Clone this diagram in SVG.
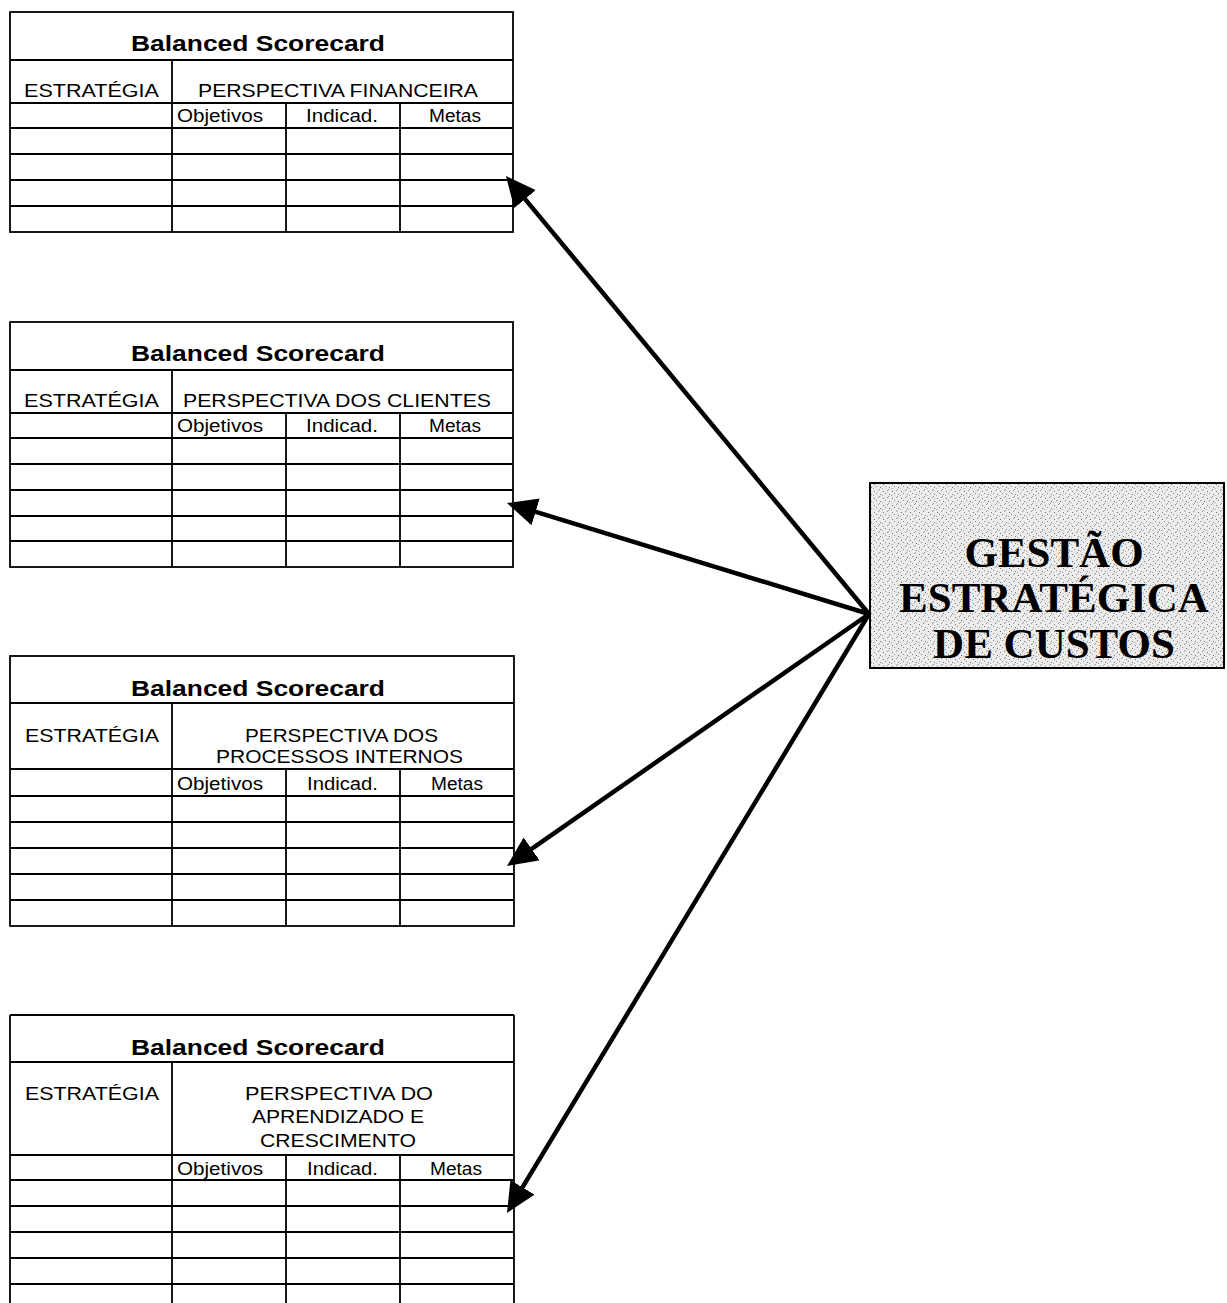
<svg xmlns="http://www.w3.org/2000/svg" width="1227" height="1303" viewBox="0 0 1227 1303">
  <style>
    .grid { fill: none; stroke: #000; stroke-width: 1.8; }
    .title { font-family: "Liberation Sans", Arial, sans-serif; font-weight: bold; font-size: 22.5px; fill: #000; }
    .hdr { font-family: "Liberation Sans", Arial, sans-serif; font-size: 18.5px; fill: #000; }
    .col { font-family: "Liberation Sans", Arial, sans-serif; font-size: 17.5px; fill: #000; }
    .big { font-family: "Liberation Serif", "Times New Roman", serif; font-weight: bold; font-size: 43px; fill: #000; text-anchor: middle; }
    .conn { stroke: #000; stroke-width: 4.5; fill: none; marker-end: url(#head); }
  </style>
  <defs>
    <marker id="head" viewBox="0 0 30 28" markerWidth="30" markerHeight="28" refX="10" refY="14" orient="auto" markerUnits="userSpaceOnUse">
      <path d="M0,0 L30,14 L0,28 Z" fill="#000"/>
    </marker>
    <pattern id="halftone" width="9" height="7" patternUnits="userSpaceOnUse">
      <rect width="9" height="7" fill="#ececec"/>
      <rect x="1" y="1" width="1" height="1" fill="#777"/>
      <rect x="5" y="0" width="1" height="1" fill="#999"/>
      <rect x="3" y="3" width="1" height="1" fill="#888"/>
      <rect x="7" y="4" width="1" height="1" fill="#777"/>
      <rect x="0" y="5" width="1" height="1" fill="#aaa"/>
      <rect x="6" y="6" width="1" height="1" fill="#999"/>
    </pattern>
  </defs>

  <rect width="1227" height="1303" fill="#fff"/>

  <!-- Scorecard 1: financial perspective -->
  <g id="bsc-financeira">
    <rect class="grid" x="10" y="12" width="503" height="220"/>
    <path class="grid" d="M10,60 H513 M10,103 H513 M10,128 H513 M10,154 H513 M10,180 H513 M10,206 H513 M172,60 V232 M286,103 V232 M400,103 V232"/>
    <text class="title" x="131" y="51" textLength="254" lengthAdjust="spacingAndGlyphs">Balanced Scorecard</text>
    <text class="hdr" x="24" y="97" textLength="135" lengthAdjust="spacingAndGlyphs">ESTRATÉGIA</text>
    <text class="hdr" x="198" y="97" textLength="280" lengthAdjust="spacingAndGlyphs">PERSPECTIVA FINANCEIRA</text>
    <text class="col" x="177" y="122" textLength="86" lengthAdjust="spacingAndGlyphs">Objetivos</text>
    <text class="col" x="306" y="122" textLength="72" lengthAdjust="spacingAndGlyphs">Indicad.</text>
    <text class="col" x="429" y="122" textLength="52" lengthAdjust="spacingAndGlyphs">Metas</text>
  </g>

  <!-- Scorecard 2: customer perspective -->
  <g id="bsc-clientes">
    <rect class="grid" x="10" y="322" width="503" height="245"/>
    <path class="grid" d="M10,370 H513 M10,413 H513 M10,438 H513 M10,464 H513 M10,490 H513 M10,516 H513 M10,541 H513 M172,370 V567 M286,413 V567 M400,413 V567"/>
    <text class="title" x="131" y="361" textLength="254" lengthAdjust="spacingAndGlyphs">Balanced Scorecard</text>
    <text class="hdr" x="24" y="407" textLength="135" lengthAdjust="spacingAndGlyphs">ESTRATÉGIA</text>
    <text class="hdr" x="183" y="407" textLength="308" lengthAdjust="spacingAndGlyphs">PERSPECTIVA DOS CLIENTES</text>
    <text class="col" x="177" y="432" textLength="86" lengthAdjust="spacingAndGlyphs">Objetivos</text>
    <text class="col" x="306" y="432" textLength="72" lengthAdjust="spacingAndGlyphs">Indicad.</text>
    <text class="col" x="429" y="432" textLength="52" lengthAdjust="spacingAndGlyphs">Metas</text>
  </g>

  <!-- Scorecard 3: internal processes perspective -->
  <g id="bsc-processos">
    <rect class="grid" x="10" y="656" width="504" height="270"/>
    <path class="grid" d="M10,703 H514 M10,769 H514 M10,796 H514 M10,822 H514 M10,848 H514 M10,874 H514 M10,900 H514 M172,703 V926 M286,769 V926 M400,769 V926"/>
    <text class="title" x="131" y="696" textLength="254" lengthAdjust="spacingAndGlyphs">Balanced Scorecard</text>
    <text class="hdr" x="25" y="742" textLength="134" lengthAdjust="spacingAndGlyphs">ESTRATÉGIA</text>
    <text class="hdr" x="245" y="742" textLength="193" lengthAdjust="spacingAndGlyphs">PERSPECTIVA DOS</text>
    <text class="hdr" x="216" y="763" textLength="247" lengthAdjust="spacingAndGlyphs">PROCESSOS INTERNOS</text>
    <text class="col" x="177" y="790" textLength="86" lengthAdjust="spacingAndGlyphs">Objetivos</text>
    <text class="col" x="307" y="790" textLength="71" lengthAdjust="spacingAndGlyphs">Indicad.</text>
    <text class="col" x="431" y="790" textLength="52" lengthAdjust="spacingAndGlyphs">Metas</text>
  </g>

  <!-- Scorecard 4: learning and growth perspective (runs off the page) -->
  <g id="bsc-aprendizado">
    <path class="grid" d="M10,1015 H514 M10,1062 H514 M10,1155 H514 M10,1180 H514 M10,1206 H514 M10,1232 H514 M10,1258 H514 M10,1284 H514 M10,1015 V1305 M514,1015 V1305 M172,1062 V1305 M286,1155 V1305 M400,1155 V1305"/>
    <text class="title" x="131" y="1055" textLength="254" lengthAdjust="spacingAndGlyphs">Balanced Scorecard</text>
    <text class="hdr" x="25" y="1100" textLength="134" lengthAdjust="spacingAndGlyphs">ESTRATÉGIA</text>
    <text class="hdr" x="245" y="1100" textLength="188" lengthAdjust="spacingAndGlyphs">PERSPECTIVA DO</text>
    <text class="hdr" x="252" y="1123" textLength="172" lengthAdjust="spacingAndGlyphs">APRENDIZADO E</text>
    <text class="hdr" x="260" y="1147" textLength="156" lengthAdjust="spacingAndGlyphs">CRESCIMENTO</text>
    <text class="col" x="177" y="1175" textLength="86" lengthAdjust="spacingAndGlyphs">Objetivos</text>
    <text class="col" x="307" y="1175" textLength="71" lengthAdjust="spacingAndGlyphs">Indicad.</text>
    <text class="col" x="430" y="1175" textLength="52" lengthAdjust="spacingAndGlyphs">Metas</text>
  </g>

  <!-- Strategic cost management box -->
  <g id="gestao-custos">
    <rect x="870" y="483" width="354" height="185" fill="url(#halftone)" stroke="#000" stroke-width="2"/>
    <text class="big" x="1054" y="567">GESTÃO</text>
    <text class="big" x="1054" y="612">ESTRATÉGICA</text>
    <text class="big" x="1054" y="658">DE CUSTOS</text>
  </g>

  <!-- Connectors from the box to each scorecard -->
  <g id="connectors">
    <line class="conn" x1="869" y1="614" x2="518.7" y2="191.4"/>
    <line class="conn" x1="869" y1="614" x2="526.1" y2="508.9"/>
    <line class="conn" x1="869" y1="614" x2="523.4" y2="854.6"/>
    <line class="conn" x1="869" y1="614" x2="517.3" y2="1195.9"/>
  </g>
</svg>
